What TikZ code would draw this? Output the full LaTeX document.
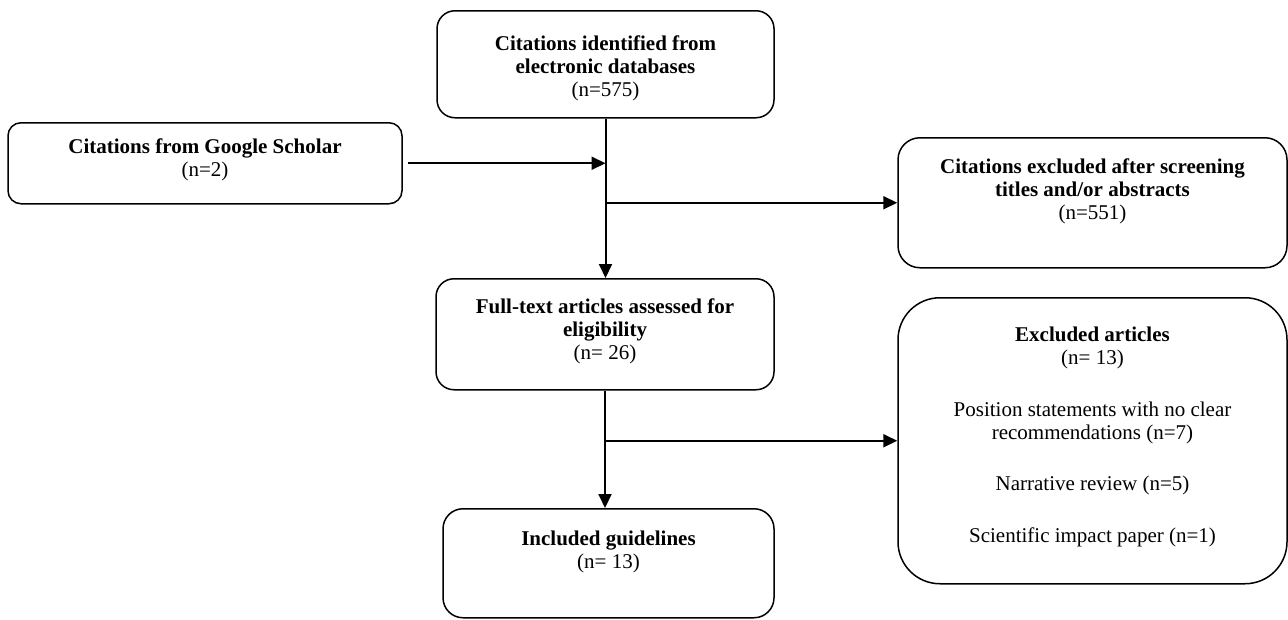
\documentclass[tikz,border=0pt]{standalone}
\usepackage{fontspec}
\setmainfont{Liberation Serif}
\usetikzlibrary{arrows.meta}

\begin{document}
\begin{tikzpicture}[x=1pt, y=-1pt,
  box/.style={draw, line width=1.5pt, align=center, anchor=north,
    inner xsep=0pt, inner ysep=0pt, font=\fontsize{21}{23}\selectfont},
  flow/.style={line width=2pt, -{Triangle[length=14pt,width=13pt]}}]
\useasboundingbox (0,0) rectangle (1288,619);

\node[box, rounded corners=18pt, minimum width=337pt, text height=86pt, text depth=21pt]
  (db) at (605.5,10) {\textbf{Citations identified from}\\\textbf{electronic databases}\\(n=575)};
\node[box, rounded corners=13pt, minimum width=394pt, text height=54pt, text depth=27pt]
  (gs) at (205,122) {\textbf{Citations from Google Scholar}\\(n=2)};
\node[box, rounded corners=22pt, minimum width=389pt, text height=82pt, text depth=48pt]
  (ex1) at (1092.5,137) {\textbf{Citations excluded after screening}\\\textbf{titles and/or abstracts}\\(n=551)};
\node[box, rounded corners=18pt, minimum width=338pt, text height=81pt, text depth=30pt]
  (ft) at (605,278) {\textbf{Full-text articles assessed for}\\\textbf{eligibility}\\(n= 26)};
\node[box, rounded corners=42pt, minimum width=389pt, text height=245pt, text depth=41pt]
  (ex2) at (1092.5,297) {\textbf{Excluded articles}\\(n= 13)\\[29pt]Position statements with no clear\\recommendations (n=7)\\[28pt]Narrative review (n=5)\\[29pt]Scientific impact paper (n=1)};
\node[box, rounded corners=20pt, minimum width=331pt, text height=60pt, text depth=49pt]
  (inc) at (608.5,508) {\textbf{Included guidelines}\\(n= 13)};

% screening
\draw[flow, shorten <=5pt] (gs.east) -- (gs.east -| db.south);
\draw[flow] (db.south) -- (db.south |- ft.north);
\draw[flow] (db.south |- ex1.west) -- (ex1.west);

% eligibility
\draw[flow] (ft.south) -- (ft.south |- inc.north);
\draw[flow] (ft.south |- ex2.west) -- (ex2.west);
\end{tikzpicture}
\end{document}
